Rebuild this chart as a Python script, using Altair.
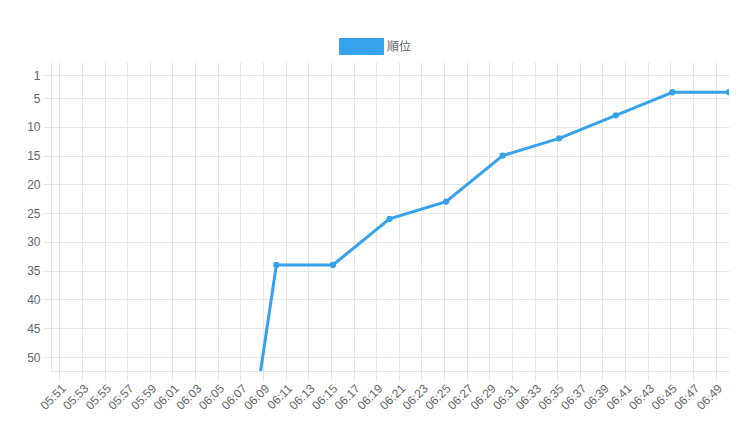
import altair as alt
import pandas as pd

# data
times = ["05:50:11", "05:55:11", "06:00:11", "06:05:11", "06:10:11", "06:15:11",
         "06:20:11", "06:25:11", "06:30:11", "06:35:11", "06:40:11", "06:45:11", "06:50:11"]
ranks = [100, 100, 100, 100, 34, 34, 26, 23, 15, 12, 8, 4, 4]
series_name = "順位"
y_ticks = [1, 5, 10, 15, 20, 25, 30, 35, 40, 45, 50]
x_tick_labels = ["05:51", "05:53", "05:55", "05:57", "05:59", "06:01", "06:03", "06:05",
                 "06:07", "06:09", "06:11", "06:13", "06:15", "06:17", "06:19", "06:21",
                 "06:23", "06:25", "06:27", "06:29", "06:31", "06:33", "06:35", "06:37",
                 "06:39", "06:41", "06:43", "06:45", "06:47", "06:49"]


def to_min(s):
    p = [int(v) for v in s.split(":")]
    return p[0] * 60 + p[1] + (p[2] / 60 if len(p) > 2 else 0)


df = pd.DataFrame({
    "t": [to_min(s) for s in times],
    "rank": ranks,
    "series": [series_name] * len(times),
})
tick_vals = [to_min(s) for s in x_tick_labels]

BLUE = "#36A2EB"
GRID = "#e6e6e6"
FONT = "Liberation Sans"

x = alt.X("t:Q",
          scale=alt.Scale(domain=[to_min("05:50:16"), to_min("06:50:11")], nice=False, zero=False),
          axis=alt.Axis(values=tick_vals, title=None, labelOverlap=False,
                        labelExpr="timeFormat(datetime(2024,0,1,0,datum.value),'%H:%M')",
                        labelAngle=-45, labelAlign="right", labelBaseline="middle",
                        labelPadding=6, labelOffset=4,
                        tickSize=9, tickColor=GRID, gridColor=GRID, domainColor=GRID,
                        labelColor="#666", labelFontSize=12, labelFont=FONT))
y = alt.Y("rank:Q",
          scale=alt.Scale(domain=[-1.26, 52.43], reverse=True, nice=False, zero=False),
          axis=alt.Axis(values=y_ticks, title=None, tickSize=8, labelPadding=3,
                        labelOverlap=False,
                        tickColor=GRID, gridColor=GRID, domainColor=GRID,
                        labelColor="#666", labelFontSize=12, labelFont=FONT))
color = alt.Color("series:N", scale=alt.Scale(range=[BLUE]),
                  legend=alt.Legend(title=None, orient="none", legendX=288, legendY=-38,
                                    symbolType="M-1,-0.364H1V0.364H-1Z", symbolSize=1936,
                                    symbolFillColor=BLUE, symbolStrokeColor=BLUE,
                                    symbolStrokeWidth=1, labelOffset=3, padding=0,
                                    labelFontSize=12, labelColor="#666",
                                    labelFont="Noto Sans CJK JP"))

line = alt.Chart(df).mark_line(strokeWidth=3, clip=True, color=BLUE).encode(x=x, y=y, color=color)
pts = alt.Chart(df).mark_circle(size=40, opacity=1, clip=True, color=BLUE).encode(x=x, y=y, color=color)

chart = (line + pts).properties(
    width=678, height=309,
    autosize=alt.AutoSizeParams(type="none"),
    padding={"left": 43, "top": 54, "right": 15, "bottom": 69},
).configure_view(stroke=None)

chart.save("out.html", embed_options={"renderer": "svg", "actions": False})
